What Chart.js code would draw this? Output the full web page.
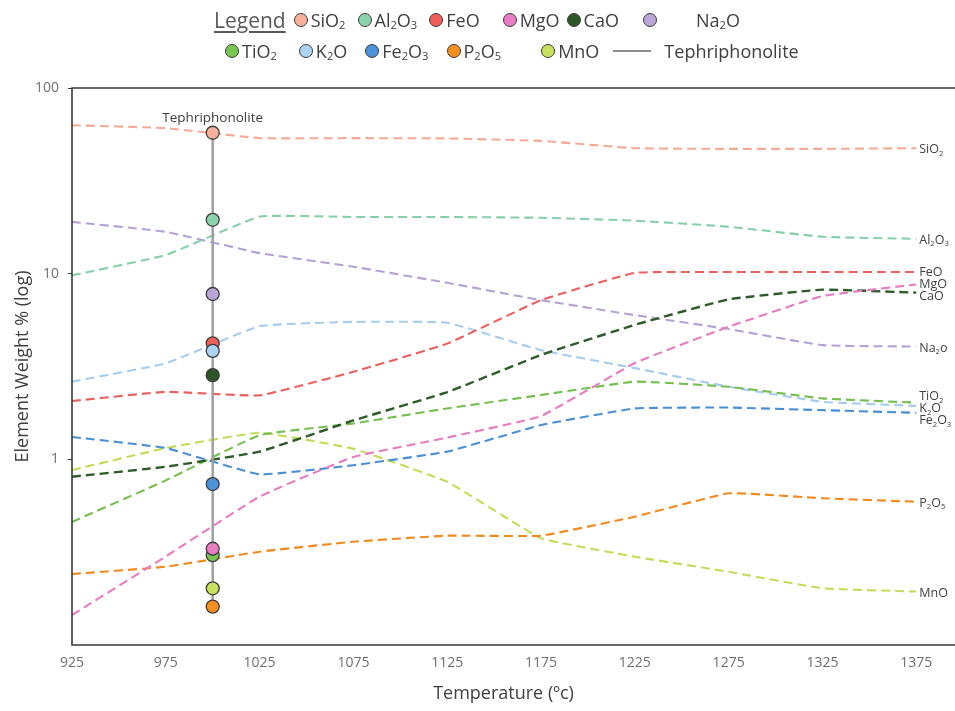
<!DOCTYPE html>
<html>
<head>
<meta charset="utf-8">
<script src="https://cdn.jsdelivr.net/npm/chart.js@4.4.0/dist/chart.umd.min.js"></script>
<style>
  html, body { margin: 0; padding: 0; background: #fff; }
  #wrap { position: relative; width: 955px; height: 711px; overflow: hidden; }
  #chart { position: absolute; left: 0; top: 0; }
  .legend-row {
    position: absolute; display: flex; align-items: center; white-space: nowrap;
    font-family: 'Open Sans', sans-serif; font-size: 18px; color: #404040; height: 26px;
  }
  .legend-title { font-size: 21px; text-decoration: underline; text-underline-offset: 3px;
    text-decoration-thickness: 1.5px; color: #595959; }
  .item { display: flex; align-items: center; margin-left: 12px; }
  .dot { width: 14px; height: 14px; border-radius: 50%; border: 1.3px solid #3d3d3d;
    box-sizing: border-box; margin-right: 3px; flex: none; }
  .swatch-line { width: 38px; height: 0; border-top: 2px solid #8c8c8c; margin-right: 13px; flex: none; }
  sub { font-size: 0.62em; vertical-align: -0.22em; line-height: 0; }
</style>
</head>
<body>
<div id="wrap">
  <canvas id="chart" width="955" height="711"></canvas>
  <div class="legend-row" id="row1" style="left:214px; top:7px;"></div>
  <div class="legend-row" id="row2" style="left:225px; top:38px;"></div>
</div>
<script>
// Crystallisation temperatures (°C) along the x axis
const temperatures = [925, 975, 1025, 1075, 1125, 1175, 1225, 1275, 1325, 1375];
const yTickValues = [1, 10, 100];

// Oxide names, in legend order
const oxides = ['SiO2', 'Al2O3', 'FeO', 'MgO', 'CaO', 'Na2O', 'TiO2', 'K2O', 'Fe2O3', 'P2O5', 'MnO'];
// Labels printed at the right-hand end of each curve
const endLabels = ['SiO2', 'Al2O3', 'FeO', 'MgO', 'CaO', 'Na2o', 'TiO2', 'K2O', 'Fe2O3', 'P2O5', 'MnO'];

// Melt composition (wt %) at each temperature
const SiO2  = [63, 60.8, 53.7, 53.7, 53.5, 51.9, 47.4, 47.0, 47.0, 47.4];
const Al2O3 = [9.8, 12.6, 20.3, 20.2, 20.2, 20.0, 19.3, 17.9, 15.8, 15.4];
const FeO   = [2.06, 2.31, 2.21, 2.96, 4.2, 7.2, 10.1, 10.2, 10.2, 10.2];
const MgO   = [0.145, 0.30, 0.63, 1.03, 1.31, 1.71, 3.3, 5.18, 7.57, 8.75];
const CaO   = [0.806, 0.912, 1.10, 1.62, 2.3, 3.65, 5.3, 7.27, 8.2, 7.9];
const Na2O  = [19.0, 16.8, 12.9, 10.9, 8.93, 7.2, 5.98, 5.03, 4.12, 4.05];
const TiO2  = [0.46, 0.77, 1.35, 1.56, 1.88, 2.22, 2.62, 2.46, 2.13, 2.02];
const K2O   = [2.62, 3.29, 5.22, 5.5, 5.44, 3.87, 3.10, 2.46, 2.04, 1.94];
const Fe2O3 = [1.32, 1.15, 0.83, 0.93, 1.10, 1.53, 1.88, 1.90, 1.84, 1.78];
const P2O5  = [0.241, 0.264, 0.318, 0.36, 0.388, 0.388, 0.491, 0.656, 0.617, 0.591];
const MnO   = [0.876, 1.15, 1.39, 1.14, 0.757, 0.376, 0.299, 0.248, 0.202, 0.194];

// Reference rock composition, plotted as a column of points
const sampleName = 'Tephriphonolite';
const sampleTemperature = 1000;
const sampleComposition = [57.4, 19.5, 4.21, 0.33, 2.84, 7.77, 0.305, 3.84, 0.736, 0.161, 0.202];

const seriesValues = [SiO2, Al2O3, FeO, MgO, CaO, Na2O, TiO2, K2O, Fe2O3, P2O5, MnO];

const lineColors = ['#f3ab96', '#86cfa8', '#e9605e', '#e67cbf', '#2f5a2a', '#b4a2d4',
                    '#74bf4e', '#a7cdee', '#4a8ed4', '#f08a1e', '#c3dc58'];
const dotColors  = ['#f5b19c', '#8bd3ac', '#ee5f5b', '#e97cc2', '#2e5527', '#b9a6d8',
                    '#79c553', '#abd3f2', '#4d92d8', '#f5901f', '#c9e05c'];
// Stacking of the sample points (later ones sit on top)
const pointOrder = ['SiO2', 'Al2O3', 'Na2O', 'FeO', 'K2O', 'CaO', 'Fe2O3', 'TiO2', 'MgO', 'MnO', 'P2O5'];

const FONT = "'Open Sans', sans-serif";
const TEXT = '#404040';

function chemHTML(t) { return t.replace(/(\d+)/g, '<sub>$1</sub>'); }

function drawChem(ctx, text, x, y, size) {
  let cx = x;
  for (const part of text.match(/\d+|\D+/g)) {
    const isSub = /\d/.test(part);
    ctx.font = (isSub ? size * 0.62 : size) + 'px ' + FONT;
    ctx.fillText(part, cx, y + (isSub ? size * 0.3 : 0));
    cx += ctx.measureText(part).width;
  }
}

function spreadLabels(items, gap) {
  items.sort((a, b) => a.y - b.y);
  let groups = items.map(it => ({ list: [it], mean: it.y }));
  const top = g => g.mean - (g.list.length - 1) * gap / 2;
  let changed = true;
  while (changed) {
    changed = false;
    for (let i = 0; i < groups.length - 1; i++) {
      const a = groups[i], b = groups[i + 1];
      if (top(a) + a.list.length * gap > top(b)) {
        const list = a.list.concat(b.list);
        groups.splice(i, 2, { list, mean: list.reduce((s, it) => s + it.y, 0) / list.length });
        changed = true;
        break;
      }
    }
  }
  groups.forEach(g => g.list.forEach((it, k) => { it.ly = top(g) + k * gap; }));
}

// Frame, curve-end labels and the sample caption
const decorations = {
  id: 'decorations',
  afterDatasetsDraw(chart) {
    const { ctx, chartArea, scales } = chart;
    const W = chart.width;
    ctx.save();
    ctx.strokeStyle = '#3a3a3a';
    ctx.lineWidth = 1.6;
    ctx.beginPath();
    ctx.moveTo(W, chartArea.top); ctx.lineTo(chartArea.left, chartArea.top);
    ctx.lineTo(chartArea.left, chartArea.bottom); ctx.lineTo(W, chartArea.bottom);
    ctx.stroke();

    const lastX = scales.x.getPixelForValue(temperatures[temperatures.length - 1]);
    const items = oxides.map((name, i) => ({
      text: endLabels[i],
      y: scales.y.getPixelForValue(seriesValues[i][seriesValues[i].length - 1])
    }));
    spreadLabels(items, 12);
    ctx.fillStyle = TEXT;
    ctx.textBaseline = 'middle';
    ctx.textAlign = 'left';
    items.forEach(it => drawChem(ctx, it.text, lastX + 3, it.ly + 1.5, 12.5));

    const topVal = Math.max(...sampleComposition);
    ctx.font = '13.5px ' + FONT;
    ctx.textAlign = 'center';
    ctx.fillText(sampleName, scales.x.getPixelForValue(sampleTemperature),
                 scales.y.getPixelForValue(topVal) - 15);
    ctx.restore();
  }
};

const samplePoints = pointOrder.map(name => {
  const i = oxides.indexOf(name);
  return { x: sampleTemperature, y: sampleComposition[i], color: dotColors[i] };
});

const datasets = [{
  label: sampleName,
  data: samplePoints.map(p => ({ x: p.x, y: p.y })),
  borderColor: '#a0a0a0',
  borderWidth: 2.5,
  pointRadius: 6.5,
  pointBorderWidth: 1.3,
  pointBorderColor: '#3d3d3d',
  pointBackgroundColor: samplePoints.map(p => p.color),
  order: 0,
  tension: 0
}].concat(oxides.map((name, i) => ({
  label: name,
  data: temperatures.map((t, k) => ({ x: t, y: seriesValues[i][k] })),
  borderColor: lineColors[i],
  borderWidth: name === 'CaO' ? 2.4 : 2.1,
  borderDash: [9, 5],
  pointRadius: 0,
  tension: 0.1,
  order: 1
})));

const chart = new Chart(document.getElementById('chart'), {
  type: 'line',
  data: { datasets },
  options: {
    responsive: false,
    animation: false,
    layout: { padding: { top: 88, right: 20, left: 0, bottom: 0 } },
    plugins: { legend: { display: false }, tooltip: { enabled: false } },
    scales: {
      x: {
        type: 'linear',
        min: 925, max: 1385,
        afterBuildTicks: s => { s.ticks = temperatures.map(v => ({ value: v })); },
        afterFit: s => { s.height = 66; },
        grid: { display: false, drawTicks: false },
        border: { display: false },
        ticks: { color: '#6f6f6f', font: { family: FONT, size: 14 }, padding: 10,
                 maxRotation: 0, callback: v => String(v) },
        title: { display: true, text: 'Temperature (ºc)', color: TEXT,
                 font: { family: FONT, size: 18 }, padding: { bottom: 6 } }
      },
      y: {
        type: 'logarithmic',
        min: 0.1, max: 100,
        afterBuildTicks: s => { s.ticks = yTickValues.map(v => ({ value: v })); },
        afterFit: s => { s.width = 72; },
        grid: { display: true, drawOnChartArea: false, drawTicks: true, tickLength: 4, color: '#3a3a3a' },
        border: { display: false },
        ticks: { color: '#6f6f6f', font: { family: FONT, size: 14 }, padding: 9,
                 callback: v => String(v) },
        title: { display: true, text: 'Element Weight % (log)', color: TEXT,
                 font: { family: FONT, size: 18 }, padding: { top: 12 } }
      }
    }
  },
  plugins: [decorations]
});

// HTML legend built from the chart's datasets
(function buildLegend() {
  const row1 = document.getElementById('row1');
  const row2 = document.getElementById('row2');
  row1.innerHTML = '<span class="legend-title">Legend</span>';
  const extraGap = { SiO2: 8, MgO: 23, CaO: 7, Na2O: 24, TiO2: 0, K2O: 22, Fe2O3: 18, P2O5: 18, MnO: 40 };
  const lines = chart.data.datasets.filter(d => d.label !== sampleName);
  lines.forEach((d, i) => {
    const idx = oxides.indexOf(d.label);
    const el = document.createElement('span');
    el.className = 'item';
    el.innerHTML = '<span class="dot" style="background:' + dotColors[idx] + '"></span>' +
      '<span' + (d.label === 'Na2O' ? ' style="margin-left:36px"' : '') + '>' + chemHTML(d.label) + '</span>';
    if (d.label in extraGap) el.style.marginLeft = extraGap[d.label] + 'px';
    (i < 6 ? row1 : row2).appendChild(el);
  });
  const s = document.createElement('span');
  s.className = 'item';
  s.style.marginLeft = '14px';
  s.innerHTML = '<span class="swatch-line"></span><span>' + sampleName + '</span>';
  row2.appendChild(s);
})();
</script>
</body>
</html>
